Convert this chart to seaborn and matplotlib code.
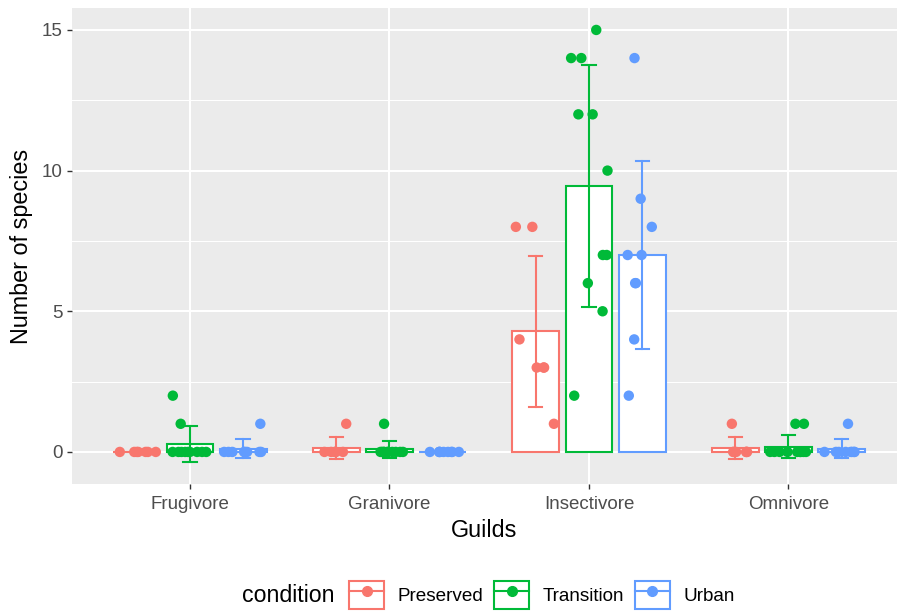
import numpy as np
import pandas as pd
import matplotlib
matplotlib.use("Agg")
import matplotlib.pyplot as plt
import seaborn as sns
from matplotlib.patches import Patch
from matplotlib.lines import Line2D
from matplotlib.ticker import MultipleLocator

plt.rcParams["font.family"] = ["Liberation Sans", "DejaVu Sans"]

guilds = ["Frugivore", "Granivore", "Insectivore", "Omnivore"]
conditions = ["Preserved", "Transition", "Urban"]
palette = ["#F8766D", "#00BA38", "#619CFF"]

# Number of species recorded per site, by guild and landscape condition
preserved_frugivore = [0, 0, 0, 0, 0, 0, 0]
preserved_granivore = [1, 0, 0, 0, 0, 0, 0]
preserved_insectivore = [8, 8, 4, 3, 3, 3, 1]
preserved_omnivore = [1, 0, 0, 0, 0, 0, 0]

transition_frugivore = [2, 1, 0, 0, 0, 0, 0, 0, 0, 0, 0]
transition_granivore = [1, 0, 0, 0, 0, 0, 0, 0, 0, 0, 0]
transition_insectivore = [15, 14, 14, 12, 12, 10, 7, 7, 6, 5, 2]
transition_omnivore = [1, 1, 0, 0, 0, 0, 0, 0, 0, 0, 0]

urban_frugivore = [1, 0, 0, 0, 0, 0, 0, 0, 0]
urban_granivore = [0, 0, 0, 0, 0, 0, 0, 0, 0]
urban_insectivore = [14, 9, 8, 7, 7, 6, 6, 4, 2]
urban_omnivore = [1, 0, 0, 0, 0, 0, 0, 0, 0]

by_condition = {
    "Preserved": [preserved_frugivore, preserved_granivore,
                  preserved_insectivore, preserved_omnivore],
    "Transition": [transition_frugivore, transition_granivore,
                   transition_insectivore, transition_omnivore],
    "Urban": [urban_frugivore, urban_granivore,
              urban_insectivore, urban_omnivore],
}

rows = []
for cond in conditions:
    for guild, counts in zip(guilds, by_condition[cond]):
        for n in counts:
            rows.append({"Guilds": guild, "condition": cond, "species": n})
df = pd.DataFrame(rows)

W, H = 897, 611
fig = plt.figure(figsize=(W / 100, H / 100), dpi=100)
ax = fig.add_axes([72 / W, 127 / H, 825 / W, 476 / H])

ax.set_facecolor("#EBEBEB")
ax.set_axisbelow(True)

# Mean bars with standard-deviation error bars
sns.barplot(data=df, x="Guilds", y="species", hue="condition",
            order=guilds, hue_order=conditions, palette=palette,
            saturation=1, errorbar="sd", capsize=0.2, gap=0.12,
            err_kws={"linewidth": 1.5}, legend=False, ax=ax)

for patch in ax.patches:
    col = patch.get_facecolor()
    patch.set_edgecolor(col)
    patch.set_facecolor("white")
    patch.set_linewidth(1.5)

dodge_step = 0.8 / len(conditions)
for line in ax.lines:
    xd = np.asarray(line.get_xdata(), dtype=float)
    xm = np.nanmean(xd)
    idx = int(round((xm - round(xm)) / dodge_step)) + 1
    line.set_color(palette[idx])
    line.set_zorder(2)

# Individual sites, jittered within each dodged group
np.random.seed(7)
sns.stripplot(data=df, x="Guilds", y="species", hue="condition",
              order=guilds, hue_order=conditions, palette=palette,
              dodge=True, jitter=0.3, size=7.5, linewidth=0,
              legend=False, zorder=3, ax=ax)

ax.set_xlim(-0.591, 3.544)
ax.set_ylim(-1.14, 15.78)
ax.yaxis.set_major_locator(MultipleLocator(5))
ax.yaxis.set_minor_locator(MultipleLocator(2.5))
ax.yaxis.grid(True, which="major", color="white", linewidth=1.5)
ax.yaxis.grid(True, which="minor", color="white", linewidth=0.75)
ax.xaxis.grid(True, which="major", color="white", linewidth=1.5)
for s in ax.spines.values():
    s.set_visible(False)
ax.tick_params(axis="both", which="major", length=3.8, width=1.0,
               color="#333333", labelcolor="#4D4D4D", labelsize=13.5)
ax.tick_params(axis="x", which="major", pad=4.5)
ax.tick_params(axis="y", which="major", pad=3)
ax.tick_params(axis="y", which="minor", length=0)

ax.set_xlabel("Guilds", fontsize=16.8, color="black", labelpad=5)
ax.set_ylabel("Number of species", fontsize=16.8, color="black", labelpad=6.5)

handles = [(Patch(facecolor="white", edgecolor=c, linewidth=1.5),
            Line2D([], [], color=c, linewidth=1.5, marker="o", markersize=7))
           for c in palette]
fig.legend(handles=handles, labels=conditions, loc="center",
           bbox_to_anchor=(542 / W, 1 - 595 / H), ncol=3, frameon=False,
           fontsize=13.6, handlelength=1.85, handleheight=1.85,
           handletextpad=0.7, columnspacing=0.58, borderpad=0)
fig.text(242 / W, 1 - 595 / H, "condition", fontsize=16.7,
         ha="left", va="center")

fig.savefig("out.png", dpi=100)
